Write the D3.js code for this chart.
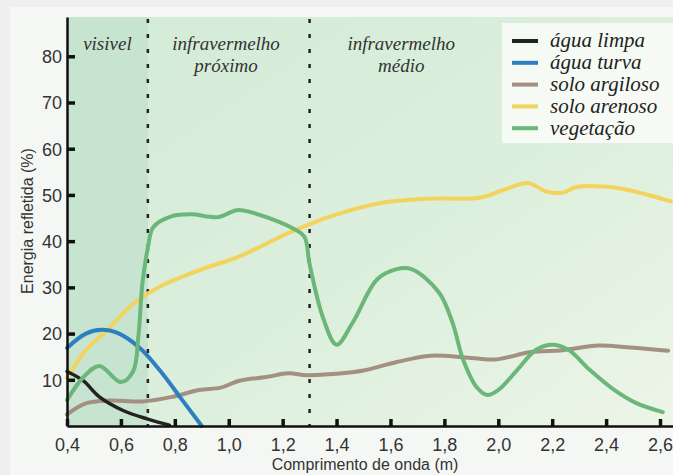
<!DOCTYPE html>
<html>
<head>
<meta charset="utf-8">
<script src="https://cdn.jsdelivr.net/npm/d3@7"></script>
<style>
  body { margin: 0; background: #efefef; }
  svg { display: block; }
</style>
</head>
<body>
<div id="chart"></div>
<script>
// values (comprimento de onda, energia refletida %)
const xTicks = [0.4, 0.6, 0.8, 1.0, 1.2, 1.4, 1.6, 1.8, 2.0, 2.2, 2.4, 2.6];
const yTicks = [10, 20, 30, 40, 50, 60, 70, 80];
const regionBounds = [0.7, 1.3];

const aguaLimpaX = [0.40, 0.46, 0.52, 0.61, 0.70, 0.78];
const aguaLimpaY = [11.8, 9.8, 6.3, 3.3, 1.5, 0.2];

const aguaTurvaX = [0.40, 0.47, 0.53, 0.585, 0.67, 0.745, 0.82, 0.90];
const aguaTurvaY = [16.9, 20.0, 20.8, 20.2, 16.9, 12.0, 6.2, 0];

const soloArgilosoX = [0.40, 0.47, 0.56, 0.68, 0.79, 0.89, 0.97, 1.04, 1.14, 1.22, 1.29, 1.40, 1.50, 1.62, 1.75, 1.87, 1.99, 2.12, 2.24, 2.37, 2.49, 2.63];
const soloArgilosoY = [2.5, 4.9, 5.5, 5.3, 6.3, 7.8, 8.3, 9.8, 10.6, 11.4, 11.0, 11.3, 12.0, 13.8, 15.2, 14.9, 14.4, 16.0, 16.4, 17.4, 17.0, 16.3];

const soloArenosoX = [0.40, 0.47, 0.55, 0.645, 0.745, 0.89, 1.04, 1.22, 1.38, 1.56, 1.75, 1.93, 2.02, 2.11, 2.18, 2.24, 2.29, 2.43, 2.55, 2.64];
const soloArenosoY = [10.5, 16.4, 20.8, 26.4, 30.2, 33.7, 36.7, 41.7, 45.4, 48.2, 49.2, 49.4, 51.1, 52.6, 50.7, 50.5, 51.7, 51.6, 50.1, 48.6];

const vegetacaoX = [0.40, 0.46, 0.52, 0.60, 0.645, 0.665, 0.68, 0.70, 0.72, 0.79, 0.86, 0.96, 1.03, 1.08, 1.23, 1.28, 1.30, 1.35, 1.40, 1.46, 1.55, 1.62, 1.68, 1.78, 1.83, 1.87, 1.92, 1.96, 2.00, 2.07, 2.14, 2.20, 2.26, 2.34, 2.43, 2.51, 2.61];
const vegetacaoY = [5.6, 10.5, 13.0, 9.5, 11.8, 19.5, 31.0, 38.5, 43.0, 45.4, 45.8, 45.2, 46.7, 46.3, 43.0, 41.0, 35.0, 23.4, 17.6, 22.4, 31.7, 33.9, 33.9, 28.9, 22.4, 14.3, 8.4, 6.7, 7.8, 12.1, 16.5, 17.6, 16.5, 12.1, 7.8, 5.0, 3.0];

const seriesNames = ["água limpa", "água turva", "solo argiloso", "solo arenoso", "vegetação"];
const seriesColors = ["#222222", "#2d7fc1", "#a39080", "#f2d35c", "#6bb679"];
const seriesX = [aguaLimpaX, aguaTurvaX, soloArgilosoX, soloArenosoX, vegetacaoX];
const seriesY = [aguaLimpaY, aguaTurvaY, soloArgilosoY, soloArenosoY, vegetacaoY];

const regionLabels = [
    { lines: ["visivel"], at: 0.55 },
    { lines: ["infravermelho", "próximo"], at: 0.99 },
    { lines: ["infravermelho", "médio"], at: 1.64 }
];

const serif = "'Liberation Serif', 'Times New Roman', serif";
const sans = "'Liberation Sans', Arial, sans-serif";

const W = 673, H = 475;
const svg = d3.select("#chart").append("svg")
    .attr("width", W)
    .attr("height", H);

const x = d3.scaleLinear().domain([0.4, 2.65]).range([67, 673.5]);
const y = d3.scaleLinear().domain([0, 88.5]).range([426, 17]);

// backgrounds
const defs = svg.append("defs");
const grad = defs.append("linearGradient")
    .attr("id", "bg")
    .attr("x1", "0").attr("y1", "0").attr("x2", "1").attr("y2", "1");
grad.append("stop").attr("offset", "0%").attr("stop-color", "#d3ebd7");
grad.append("stop").attr("offset", "55%").attr("stop-color", "#dcefdc");
grad.append("stop").attr("offset", "100%").attr("stop-color", "#ecf5e8");

svg.append("rect")
    .attr("x", 10).attr("y", 7)
    .attr("width", W - 10).attr("height", H - 7)
    .attr("fill", "#f5f7f4");

svg.append("rect")
    .attr("x", x(0.4)).attr("y", y(88.5))
    .attr("width", W - x(0.4)).attr("height", y(0) - y(88.5))
    .attr("fill", "url(#bg)");

svg.append("rect")
    .attr("x", x(0.4)).attr("y", y(88.5))
    .attr("width", x(regionBounds[0]) - x(0.4)).attr("height", y(0) - y(88.5))
    .attr("fill", "#c6e4cf");

// dotted region separators
svg.selectAll(".sep")
    .data(regionBounds)
    .join("line")
    .attr("class", "sep")
    .attr("x1", d => x(d)).attr("x2", d => x(d))
    .attr("y1", y(88.5) + 2).attr("y2", y(0))
    .attr("stroke", "#222")
    .attr("stroke-width", 2.5)
    .attr("stroke-dasharray", "4,11");

// region labels
regionLabels.forEach(r => {
    r.lines.forEach((t, i) => {
        svg.append("text")
            .attr("x", x(r.at))
            .attr("y", 50 + i * 22)
            .attr("text-anchor", "middle")
            .style("font-family", serif)
            .style("font-style", "italic")
            .style("font-size", "19px")
            .attr("fill", "#333")
            .text(t);
    });
});

// curves
const line = d3.line()
    .x(d => x(d[0]))
    .y(d => y(d[1]))
    .curve(d3.curveCatmullRom.alpha(0.5));

const drawOrder = [2, 3, 0, 1, 4];
drawOrder.forEach(i => {
    const pts = seriesX[i].map((v, j) => [v, seriesY[i][j]]);
    svg.append("path")
        .datum(pts)
        .attr("fill", "none")
        .attr("stroke", seriesColors[i])
        .attr("stroke-width", i === 0 ? 3.5 : 4)
        .attr("stroke-linecap", "round")
        .attr("d", line);
});

// axes
const fmt = d => d.toFixed(1).replace(".", ",");

const xAxis = svg.append("g")
    .attr("transform", `translate(0,${y(0)})`)
    .call(d3.axisBottom(x).tickValues(xTicks).tickSize(-7).tickSizeOuter(0).tickPadding(8).tickFormat(fmt));

const yAxis = svg.append("g")
    .attr("transform", `translate(${x(0.4)},0)`)
    .call(d3.axisLeft(y).tickValues(yTicks).tickSize(-8).tickSizeOuter(0).tickPadding(5));

[xAxis, yAxis].forEach(g => {
    g.select(".domain").attr("stroke", "#111").attr("stroke-width", 2.5);
    g.selectAll(".tick line").attr("stroke", "#111").attr("stroke-width", 3.5);
    g.selectAll(".tick text")
        .style("font-family", sans)
        .style("font-size", "18px")
        .attr("fill", "#333");
});
xAxis.selectAll(".tick text").attr("dy", "0.95em");
yAxis.selectAll(".tick text").attr("dy", "0.35em");

svg.append("text")
    .attr("x", 365)
    .attr("y", 470)
    .attr("text-anchor", "middle")
    .style("font-family", sans)
    .style("font-size", "16px")
    .attr("fill", "#333")
    .text("Comprimento de onda (m)");

svg.append("text")
    .attr("transform", "rotate(-90)")
    .attr("x", -221)
    .attr("y", 33)
    .attr("text-anchor", "middle")
    .style("font-family", sans)
    .style("font-size", "16px")
    .attr("fill", "#333")
    .text("Energia refletida (%)");

// legend
const legend = svg.append("g");
legend.append("rect")
    .attr("x", 502).attr("y", 23)
    .attr("width", W - 502).attr("height", 120)
    .attr("fill", "#f8fbf6")
    .attr("opacity", 0.92);

seriesNames.forEach((name, i) => {
    const cy = 41 + i * 21.8;
    legend.append("line")
        .attr("x1", 512).attr("x2", 538)
        .attr("y1", cy).attr("y2", cy)
        .attr("stroke", seriesColors[i])
        .attr("stroke-width", 4);
    legend.append("text")
        .attr("x", 550)
        .attr("y", cy)
        .attr("dy", "0.3em")
        .style("font-family", serif)
        .style("font-style", "italic")
        .style("font-size", "21px")
        .attr("fill", "#222")
        .text(name);
});
</script>
</body>
</html>
